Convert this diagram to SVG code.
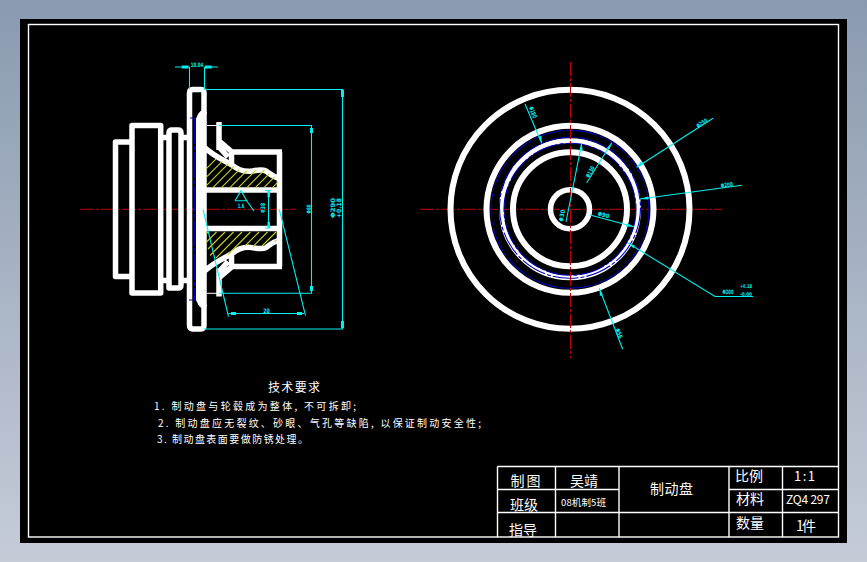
<svg xmlns="http://www.w3.org/2000/svg" width="867" height="562" viewBox="0 0 867 562">
<style>
.w{fill:none;stroke:#fff;stroke-width:5.5;stroke-linejoin:round}
.t{fill:none;stroke:#fff;stroke-width:1.4}
.c{fill:none;stroke:#00f0f0;stroke-width:1.1}
.b{fill:none;stroke:#0000c0;stroke-width:1.1;stroke-dasharray:26 2 4 2}
.r{fill:none;stroke:#c00000;stroke-width:1;stroke-dasharray:14 2 3 2}
.h{fill:none;stroke:#c4d024;stroke-width:1.1}
.d{font-family:"DejaVu Sans",sans-serif;font-size:6px;font-weight:bold;fill:#00f0f0;text-anchor:middle}
text.z{font-family:"Noto Sans CJK SC","Liberation Sans",sans-serif;fill:#fff}
.a{fill:#00f0f0}
</style>
<defs>
<linearGradient id="bg" x1="0" y1="0" x2="0" y2="1"><stop offset="0" stop-color="#8a9ab0"/><stop offset="1" stop-color="#c5ccd8"/></linearGradient>
<path id="hub" d="M219 122V150M204 147C212 155 225 161 232 165C238 170 245 172 252 171C258 170 262 169 266 171C270 174 273 177 281 179M218 140L232 152H282M231.500 152V165M220 148L228 157"/>
<path id="disc" d="M206 111Q199 114 198.500 122"/>
<clipPath id="hc1"><path d="M206 155L232 165C238 170 245 172 252 171C258 170 262 169 266 171C270 174 273 177 278 179V188H206Z"/></clipPath>
</defs>
<rect width="867" height="562" fill="url(#bg)"/>
<rect x="20" y="19" width="827" height="524" fill="#000"/>
<rect id="frame" x="28.500" y="24.500" width="810" height="512.500" class="t"/>
<g id="centerlines">
<path class="r" d="M80 209.300H296M420 209.300H722"/>
</g>
<g id="side-view">
<path class="w" d="M132 142H115.500V276.500H132M132 125.500H160.700V293H132ZM160.700 137.500H169M181 137.500H189.500M160.700 280.500H169M181 280.500H189.500"/>
<path class="w" d="M169 288V133Q169 130 172 130H178Q181 130 181 133V285Q181 288 178 288H172Q169 288 169 285Z"/>
<path class="w" d="M189.500 93Q189.500 89.500 193 89.500H201Q204 89.500 204 93V325Q204 329 201 329H193Q189.500 329 189.500 325Z"/>
<rect x="196" y="118" width="9" height="182.600" fill="#fff"/>
<use href="#disc" class="w"/>
<use href="#disc" class="w" transform="matrix(1 0 0 -1 0 418.600)"/>
<use href="#hub" class="w"/>
<use href="#hub" class="w" transform="matrix(1 0 0 -1 0 418.600)"/>
<path class="w" d="M205 190H279.500V228.600H205M279.500 152V266.600"/>
<g id="hatch">
<path class="h" clip-path="url(#hc1)" d="M185 190L235 140M193.500 190L243.500 140M202 190L252 140M210.500 190L260.500 140M219 190L269 140M227.500 190L277.500 140M236 190L286 140M244.500 190L294.500 140M253 190L303 140M261.500 190L311.500 140M270 190L320 140"/>
<path class="h" d="M208 232L206 234M216.500 232L206 242.500M225 232L208 249M233.500 232L210 255.500M242 232L216 258M250.500 232L228 254.500M259 232L245 246M267.500 232L253 246.500M276 232L262 246M276.500 240L274.700 241.800"/>
</g>
<path d="M194.500 118V300M190 118H194.500M189 300H194.500" class="b"/>
<path d="M207 125.500H219M207 293.300H219" stroke="#fff" fill="none"/>
</g>
<g id="front-view" fill="none" stroke="#fff">
<circle cx="570" cy="209.300" r="119.500" stroke-width="6"/>
<circle cx="570" cy="209.300" r="83.500" stroke-width="6"/>
<circle cx="570" cy="209.300" r="68.500" stroke-width="5"/>
<circle cx="570" cy="209.300" r="57" stroke-width="6"/>
<circle cx="570" cy="209.300" r="19.500" stroke-width="5.500"/>
<circle cx="570" cy="209.300" r="79" class="b"/>
<circle cx="570" cy="207.800" r="70.500" class="b"/>
<circle cx="570" cy="209.300" r="66" class="b"/>
</g>
<path class="r" d="M570.500 62V358"/>
<g id="connectors">
<path class="c" d="M189.500 67V89M204.500 67V89M175 67H189.500M204.500 67H218"/>
<path class="a" d="M181.700 65.500H188.500V68.500H181.700ZM205 65.500H211.700V68.500H205Z"/>
<path class="c" d="M204 89.500H342.500V329H204M219 125.500H311.500V293.300H219M268.500 191V228M265 190.500H270.500M265 228H270.500"/>
<path class="a" d="M341 90H344V97H341ZM341 321H344V328H341ZM310 128H313V133H310ZM310 286H313V291H310ZM267.500 191H270V197H267.500ZM267.500 222H270V228H267.500Z"/>
<path class="c" d="M235 200.700H246.700L241 190.700L235 200.700M246.700 200.700L254 211"/>
<path class="c" d="M203 209.300L228.500 316.700M279.300 209.300L305.500 315.700M228.500 313.500H304"/>
<path class="a" d="M231 312H236V315H231ZM297 312H302V315H297Z"/>
<path class="c" d="M525 104L541.700 143.300M713 118.300L636.700 167.300M742 185.200L640 199M611.700 142.700L586.700 182.700M581.700 143.300L566 222M590 215L634 226.700M628.300 243.300L715 296.500H753M599.300 288.300L622.700 349.300"/>
<path class="a" d="M541.700 143.300L538.500 137L541.500 135.800ZM636.700 167.300L641 161.500L643 164.500ZM640 199L648 196.500L648.500 199.500ZM611.700 142.700L609.500 149.500L606.800 148ZM581.700 143.300L582.700 150.500L579.500 150ZM634 226.700L626 226.500L627 223.300ZM628.300 243.300L635 245.500L633.300 248.300ZM599.300 288.300L603 295L600 296Z"/>
<g class="labels">
<text class="d" x="197" y="66.500" textLength="12.500" lengthAdjust="spacingAndGlyphs">10.04</text>
<text class="d" x="241" y="208" textLength="6.500" lengthAdjust="spacingAndGlyphs">1.6</text>
<text class="d" transform="translate(265 208) rotate(-90)" textLength="10" lengthAdjust="spacingAndGlyphs">Φ38</text>
<text class="d" transform="translate(310.500 209) rotate(-90)" textLength="9" lengthAdjust="spacingAndGlyphs">Φ80</text>
<text class="d" transform="translate(335 208) rotate(-90)" textLength="20" lengthAdjust="spacingAndGlyphs">Φ290</text>
<text class="d" transform="translate(341 208) rotate(-90)" textLength="20" lengthAdjust="spacingAndGlyphs">+0.18</text>
<text class="d" x="266.500" y="313" textLength="6.500" lengthAdjust="spacingAndGlyphs">20</text>
<text class="d" transform="translate(531 113) rotate(67)" textLength="12" lengthAdjust="spacingAndGlyphs">Φ180</text>
<text class="d" transform="translate(703 125) rotate(-32)" textLength="12" lengthAdjust="spacingAndGlyphs">Φ250</text>
<text class="d" transform="translate(727 187) rotate(-7)" textLength="12" lengthAdjust="spacingAndGlyphs">Φ200</text>
<text class="d" transform="translate(592 173) rotate(-60)" textLength="12" lengthAdjust="spacingAndGlyphs">Φ130</text>
<text class="d" transform="translate(564 216) rotate(-80)" textLength="12" lengthAdjust="spacingAndGlyphs">Φ30</text>
<text class="d" transform="translate(603 217) rotate(15)" textLength="12" lengthAdjust="spacingAndGlyphs">Φ90</text>
<text class="d" x="728" y="293.500" textLength="11" lengthAdjust="spacingAndGlyphs">Φ200</text>
<text class="d" style="font-size:5px" x="746" y="288" textLength="12" lengthAdjust="spacingAndGlyphs">+0.18</text>
<text class="d" style="font-size:5px" x="746" y="296" textLength="12" lengthAdjust="spacingAndGlyphs">-0.00</text>
<text class="d" transform="translate(617 334) rotate(70)" textLength="10" lengthAdjust="spacingAndGlyphs">Φ56</text>
</g>
</g>
<g id="requirements">
<text class="z" x="268" y="392" font-size="12" textLength="52">技术要求</text>
<text class="z" x="154" y="410" font-size="10" textLength="202">1. 制动盘与轮毂成为整体, 不可拆卸;</text>
<text class="z" x="158" y="427" font-size="10" textLength="323">2. 制动盘应无裂纹、砂眼、气孔等缺陷, 以保证制动安全性;</text>
<text class="z" x="157" y="443" font-size="10" textLength="151">3. 制动盘表面要做防锈处理。</text>
</g>
<g id="title-block">
<path class="t" d="M497.500 466.500H838.500M497.500 466.500V537M555.500 466.500V537M619 466.500V537M729 466.500V537M782.500 466.500V537M497.500 489.500H619M729 489.500H838.500M497.500 512.500H838.500"/>
<text class="z" x="510.500" y="486" font-size="14" textLength="30">制图</text>
<text class="z" x="570" y="486" font-size="14" textLength="28">吴靖</text>
<text class="z" x="510" y="510" font-size="14" textLength="28">班级</text>
<text class="z" x="561" y="506" font-size="9.500" textLength="45">08机制5班</text>
<text class="z" x="509" y="535" font-size="14" textLength="28">指导</text>
<text class="z" x="650" y="494" font-size="14" textLength="43">制动盘</text>
<text class="z" x="735" y="481" font-size="14" textLength="28">比例</text>
<text class="z" x="794" y="481" font-size="13" textLength="21">1:1</text>
<text class="z" x="736" y="504" font-size="14" textLength="28">材料</text>
<text class="z" x="786" y="504" font-size="12" textLength="44">ZQ4 297</text>
<text class="z" x="736" y="528" font-size="14" textLength="28">数量</text>
<text class="z" x="796" y="531" font-size="14" textLength="20">1件</text>
</g>
</svg>
